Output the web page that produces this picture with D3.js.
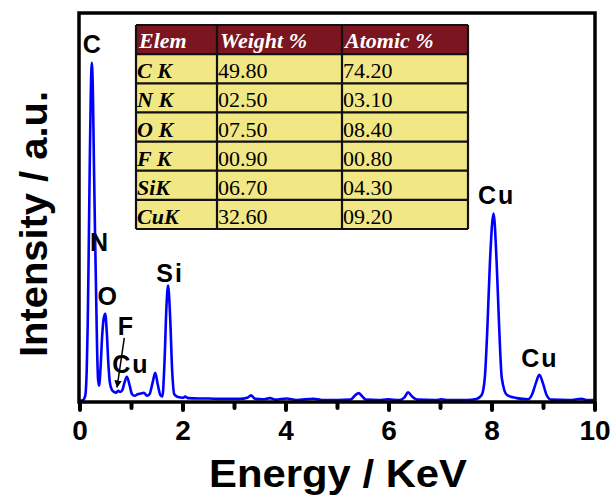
<!doctype html>
<html>
<head>
<meta charset="utf-8">
<style>
  body { margin: 0; background: #fff; }
  svg { display: block; }
  text { font-family: 'Liberation Sans', Arial, sans-serif; font-weight: bold; fill: #000; }
  .tab text { font-family: 'Liberation Serif', 'Times New Roman', serif; font-size: 22px; font-weight: normal; }
  .tab text.head { fill: #fff; font-weight: bold; font-style: italic; }
  .tab text.elem { font-weight: bold; font-style: italic; }
  .peak { font-size: 25px; letter-spacing: 2px; }
  .ticklab { font-size: 28px; }
  .axlab { font-size: 38px; }
</style>
<script src="https://d3js.org/d3.v7.min.js"></script>
</head>
<body>
<svg width="613" height="500"></svg>
<script>
// spectrum: energy (keV) and intensity (a.u.)
const energy = [0.00,0.06,0.10,0.13,0.15,0.17,0.19,0.21,0.23,0.25,0.27,0.29,0.31,0.33,0.35,0.37,0.40,0.43,0.46,0.49,0.52,0.55,0.58,0.62,0.66,0.70,0.74,0.78,0.82,0.86,0.91,0.96,1.01,1.06,1.12,1.18,1.24,1.30,1.35,1.41,1.46,1.51,1.56,1.60,1.64,1.68,1.71,1.75,1.79,1.83,1.90,2.00,2.04,2.10,2.30,2.50,2.70,2.90,3.10,3.25,3.32,3.40,3.55,3.69,3.80,4.01,4.20,4.53,4.70,5.00,5.25,5.35,5.41,5.47,5.55,5.80,5.98,6.20,6.30,6.37,6.45,6.55,6.90,7.02,7.15,7.50,7.70,7.80,7.86,7.91,7.96,8.03,8.09,8.14,8.19,8.29,8.48,8.70,8.78,8.85,8.92,8.99,9.06,9.15,9.50,9.74,9.85,10.00];
const intensity = [0.3,0.5,1.5,8,20,40,62,80,87.4,80,62,45,30,15,6,4.2,9,17,21.5,22.7,18,10,5,3.1,2.6,2.4,2.9,2.6,3.0,4.8,6.5,4.5,2.0,1.6,2.0,2.2,2.4,1.6,2.0,5.0,7.5,4.5,1.8,1.4,10,25,30,22,8,2.0,1.3,1.1,1.4,1.0,0.9,0.9,0.8,0.8,0.8,1.1,1.7,0.8,0.7,1.0,0.6,0.9,0.5,0.85,0.5,0.5,0.6,1.8,2.3,1.6,0.6,0.5,0.7,0.5,1.2,2.5,1.4,0.6,0.5,0.7,0.5,0.5,0.8,1.8,6.2,19,36,48.6,36,19,6.2,1.8,1.0,0.7,2.0,4.8,7.0,4.8,1.8,0.6,0.5,0.8,0.5,0.5];

// peak labels
const peakNames = ['C','N','O','F','Cu','Si','Cu','Cu'];
const peakE = [0.25,0.39,0.55,0.90,0.99,1.75,8.09,8.93];
const peakI = [90,39,25,17.3,7.6,31,51,9.0];

// table
const tableHead = ['Elem','Weight %','Atomic %'];
const tableElem = ['C K','N K','O K','F K','SiK','CuK'];
const tableWeight = ['49.80','02.50','07.50','00.90','06.70','32.60'];
const tableAtomic = ['74.20','03.10','08.40','00.80','04.30','09.20'];

const xTicks = [0,2,4,6,8,10];
const xMinor = [1,3,5,7,9];

const svg = d3.select('svg');
const x = d3.scaleLinear().domain([0,10]).range([80,595]);
const y = d3.scaleLinear().domain([0,100]).range([402,14]);

// spectrum
const pts = energy.map((e,i) => [e, intensity[i]]);
svg.append('path')
  .datum(pts)
  .attr('fill','none')
  .attr('stroke','#0000ff')
  .attr('stroke-width',2.6)
  .attr('stroke-linejoin','round')
  .attr('d', d3.line().x(d => x(d[0])).y(d => y(d[1])).curve(d3.curveMonotoneX));

// frame
svg.append('rect')
  .attr('x',x(0)-1).attr('y',13)
  .attr('width',x(10)-x(0)+1).attr('height',402-13)
  .attr('fill','none').attr('stroke','#000').attr('stroke-width',3.5);

// ticks
svg.append('g').selectAll('line')
  .data(xTicks.concat(xMinor))
  .join('line')
  .attr('x1',d => x(d)).attr('x2',d => x(d))
  .attr('y1',403).attr('y2',d => xTicks.includes(d) ? 410 : 408)
  .attr('stroke','#000').attr('stroke-width',4).attr('stroke-linecap','round');

svg.append('g').selectAll('text')
  .data(xTicks)
  .join('text')
  .attr('class','ticklab')
  .attr('x',d => x(d)).attr('y',440)
  .attr('text-anchor','middle')
  .text(d => d);

// axis titles
svg.append('text')
  .attr('class','axlab')
  .attr('x',338).attr('y',487)
  .attr('text-anchor','middle')
  .attr('textLength',258).attr('lengthAdjust','spacingAndGlyphs')
  .text('Energy / KeV');

svg.append('text')
  .attr('class','axlab')
  .attr('transform','translate(47,224) rotate(-90)')
  .attr('text-anchor','middle')
  .attr('textLength',266).attr('lengthAdjust','spacingAndGlyphs')
  .text('Intensity / a.u.');

// peak labels
svg.append('g').selectAll('text')
  .data(peakNames)
  .join('text')
  .attr('class','peak')
  .attr('x',(d,i) => x(peakE[i])).attr('y',(d,i) => y(peakI[i]))
  .attr('text-anchor','middle')
  .text(d => d);

// arrow from F to the small peak
svg.append('defs').append('marker')
  .attr('id','ah').attr('viewBox','0 0 10 10')
  .attr('refX',9).attr('refY',5)
  .attr('markerWidth',5).attr('markerHeight',5)
  .attr('orient','auto')
  .append('path').attr('d','M0,0L10,5L0,10z').attr('fill','#000');
svg.append('line')
  .attr('x1',x(0.86)).attr('y1',y(16.5))
  .attr('x2',x(0.72)).attr('y2',y(3.8))
  .attr('stroke','#000').attr('stroke-width',1.5)
  .attr('marker-end','url(#ah)');

// table
const colX = [136,217,342,468];
const rows = d3.scaleBand().domain(d3.range(7)).range([25,229]);
const tab = svg.append('g').attr('class','tab');
const cols = [tableElem, tableWeight, tableAtomic];

tab.selectAll('rect.row')
  .data(d3.range(7))
  .join('rect')
  .attr('x',colX[0]).attr('y',d => rows(d))
  .attr('width',colX[3]-colX[0]).attr('height',rows.bandwidth())
  .attr('fill',d => d === 0 ? '#7b1520' : '#f2e785');

for (let c = 0; c < 3; c++) {
  tab.append('text')
    .attr('class','head')
    .attr('x',colX[c]+3).attr('y',rows(0)+rows.bandwidth()-6)
    .text(tableHead[c]);
  tab.selectAll('text.c'+c)
    .data(cols[c])
    .join('text')
    .attr('class',c === 0 ? 'elem c0' : 'c'+c)
    .attr('x',colX[c]+1).attr('y',(d,i) => rows(i+1)+rows.bandwidth()-5)
    .text(d => d);
}

// grid lines
tab.selectAll('line.h')
  .data(d3.range(8))
  .join('line')
  .attr('x1',colX[0]).attr('x2',colX[3])
  .attr('y1',d => d < 7 ? rows(d) : 229).attr('y2',d => d < 7 ? rows(d) : 229)
  .attr('stroke','#111').attr('stroke-width',2.2);
tab.selectAll('line.v')
  .data(colX)
  .join('line')
  .attr('x1',d => d).attr('x2',d => d)
  .attr('y1',25).attr('y2',229)
  .attr('stroke','#111').attr('stroke-width',2.2);
</script>
</body>
</html>
